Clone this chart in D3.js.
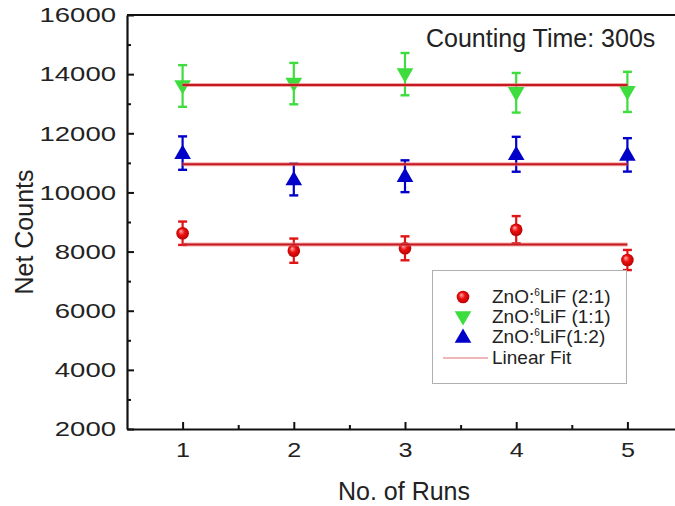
<!DOCTYPE html>
<html>
<head>
<meta charset="utf-8">
<script src="https://cdn.jsdelivr.net/npm/d3@7"></script>
<style>
  body { margin: 0; background: #fff; }
  svg text { font-family: Arial, "Liberation Sans", sans-serif; fill: #222; }
</style>
</head>
<body>
<div id="chart"></div>
<script>
// values
const runs = [1, 2, 3, 4, 5];
const red21 = [8620, 8030, 8110, 8740, 7715];
const red21Err = [395, 410, 405, 460, 340];
const green11 = [13600, 13680, 14000, 13370, 13400];
const green11Err = [705, 700, 715, 670, 680];
const blue12 = [11330, 10435, 10548, 11290, 11270];
const blue12Err = [565, 535, 538, 590, 565];
const fitRuns = [1, 5];
const fitRed = [8235, 8235];
const fitGreen = [13630, 13630];
const fitBlue = [10955, 10955];
const yTicks = [2000, 4000, 6000, 8000, 10000, 12000, 14000, 16000];
const yMinor = [3000, 5000, 7000, 9000, 11000, 13000, 15000];
const xMinor = [1.5, 2.5, 3.5, 4.5, 5.5];
const legendPre = ["ZnO:", "ZnO:", "ZnO:"];
const legendPost = ["LiF (2:1)", "LiF (1:1)", "LiF(1:2)"];
const fitLabel = "Linear Fit";

const w = 675, h = 506;
const margin = { left: 127, top: 15, bottom: 77 };
const svg = d3.select("#chart").append("svg")
  .attr("width", w).attr("height", h);

const defs = svg.append("defs");
const grad = defs.append("radialGradient").attr("id", "ball")
  .attr("cx", "50%").attr("cy", "50%").attr("r", "55%")
  .attr("fx", "35%").attr("fy", "32%");
grad.append("stop").attr("offset", "0%").attr("stop-color", "#ffb0b0");
grad.append("stop").attr("offset", "45%").attr("stop-color", "#ee1111");
grad.append("stop").attr("offset", "100%").attr("stop-color", "#b00000");

const xScale = d3.scaleLinear().domain([0.5, 5.5]).range([margin.left, 683]);
const yScale = d3.scaleLinear().domain([2000, 16000]).range([h - margin.bottom, margin.top]);

// top frame line
svg.append("line")
  .attr("x1", margin.left).attr("x2", w)
  .attr("y1", margin.top).attr("y2", margin.top)
  .attr("stroke", "#111").attr("stroke-width", 2.2);

// minor ticks
svg.append("g")
  .attr("transform", `translate(0, ${h - margin.bottom})`)
  .call(d3.axisBottom(xScale).tickValues(xMinor).tickSize(-4).tickFormat(""))
  .call(g => g.select(".domain").remove());
svg.append("g")
  .attr("transform", `translate(${margin.left}, 0)`)
  .call(d3.axisLeft(yScale).tickValues(yMinor).tickSize(-4).tickFormat(""))
  .call(g => g.select(".domain").remove());

let xAxis = svg.append("g")
  .attr("transform", `translate(0, ${h - margin.bottom})`)
  .call(d3.axisBottom(xScale).tickValues(runs).tickFormat(d3.format("d"))
    .tickSize(-7).tickPadding(13).tickSizeOuter(0));
let yAxis = svg.append("g")
  .attr("transform", `translate(${margin.left}, 0)`)
  .call(d3.axisLeft(yScale).tickValues(yTicks).tickFormat(d3.format("d"))
    .tickSize(-7).tickPadding(11).tickSizeOuter(0));

svg.selectAll(".tick line").attr("stroke", "#111").attr("stroke-width", 2);
svg.selectAll(".domain").attr("stroke", "#111").attr("stroke-width", 2.2);
xAxis.selectAll("text")
  .attr("font-size", 21).attr("fill", "#222")
  .attr("textLength", 14).attr("lengthAdjust", "spacingAndGlyphs");
yAxis.selectAll("text")
  .attr("font-size", 21).attr("fill", "#222")
  .attr("textLength", function () { return this.textContent.length * 15.3; })
  .attr("lengthAdjust", "spacingAndGlyphs");

// axis titles
svg.append("text")
  .attr("x", 404).attr("y", 500)
  .attr("text-anchor", "middle").attr("font-size", 25)
  .text("No. of Runs");
svg.append("text")
  .attr("transform", "translate(33, 232) rotate(-90)")
  .attr("text-anchor", "middle").attr("font-size", 25)
  .text("Net Counts");
svg.append("text")
  .attr("x", 426).attr("y", 47)
  .attr("font-size", 25)
  .text("Counting Time: 300s");

// series
const series = [
  { vals: red21, err: red21Err, color: "#e01515", shape: "circle", fit: fitRed },
  { vals: green11, err: green11Err, color: "#3ddd3d", shape: "down", fit: fitGreen },
  { vals: blue12, err: blue12Err, color: "#0000c8", shape: "up", fit: fitBlue }
];
const triUp = d3.symbol().type(d3.symbolTriangle).size(120);
const lineGen = d3.line().x(d => xScale(d[0])).y(d => yScale(d[1]));

function drawMarker(g, s, x, y) {
  if (s.shape === "circle") {
    g.append("circle").attr("cx", x).attr("cy", y).attr("r", 6.3)
      .attr("fill", "url(#ball)");
  } else {
    const rot = s.shape === "down" ? 180 : 0;
    const dy = s.shape === "down" ? -1 : 1;
    g.append("path").attr("d", triUp())
      .attr("transform", `translate(${x}, ${y + dy}) rotate(${rot})`)
      .attr("fill", s.color);
  }
}

series.forEach(s => {
  const g = svg.append("g");
  runs.forEach((r, i) => {
    const x = xScale(r);
    const yTop = yScale(s.vals[i] + s.err[i]);
    const yBot = yScale(s.vals[i] - s.err[i]);
    g.append("line").attr("x1", x).attr("x2", x).attr("y1", yTop).attr("y2", yBot)
      .attr("stroke", s.color).attr("stroke-width", 2.2);
    [yTop, yBot].forEach(yc => {
      g.append("line").attr("x1", x - 4.5).attr("x2", x + 4.5).attr("y1", yc).attr("y2", yc)
        .attr("stroke", s.color).attr("stroke-width", 2.4);
    });
    drawMarker(g, s, x, yScale(s.vals[i]));
  });
});

// linear fits
series.forEach(s => {
  const pts = fitRuns.map((r, i) => [r, s.fit[i]]);
  svg.append("path").datum(pts)
    .attr("fill", "none").attr("stroke", "#f07070").attr("stroke-width", 4).attr("opacity", 0.6)
    .attr("d", lineGen);
  svg.append("path").datum(pts)
    .attr("fill", "none").attr("stroke", "#c41a22").attr("stroke-width", 2)
    .attr("d", lineGen);
});

// legend
const lg = svg.append("g");
lg.append("rect").attr("x", 432.5).attr("y", 270.5).attr("width", 194).attr("height", 113)
  .attr("fill", "#fff").attr("stroke", "#b0b0b0").attr("stroke-width", 1);
const rowY = [297, 317, 337];
series.forEach((s, i) => {
  drawMarker(lg, s, 463, rowY[i]);
  const t = lg.append("text").attr("x", 492).attr("y", rowY[i] + 6).attr("font-size", 19);
  t.append("tspan").text(legendPre[i]);
  t.append("tspan").attr("font-size", 10).attr("dy", -7).text("6");
  t.append("tspan").attr("dy", 7).text(legendPost[i]);
});
lg.append("line").attr("x1", 443).attr("x2", 488).attr("y1", 358).attr("y2", 358)
  .attr("stroke", "#e07070").attr("stroke-width", 1.2);
lg.append("text").attr("x", 492).attr("y", 364).attr("font-size", 19).text(fitLabel);
</script>
</body>
</html>
